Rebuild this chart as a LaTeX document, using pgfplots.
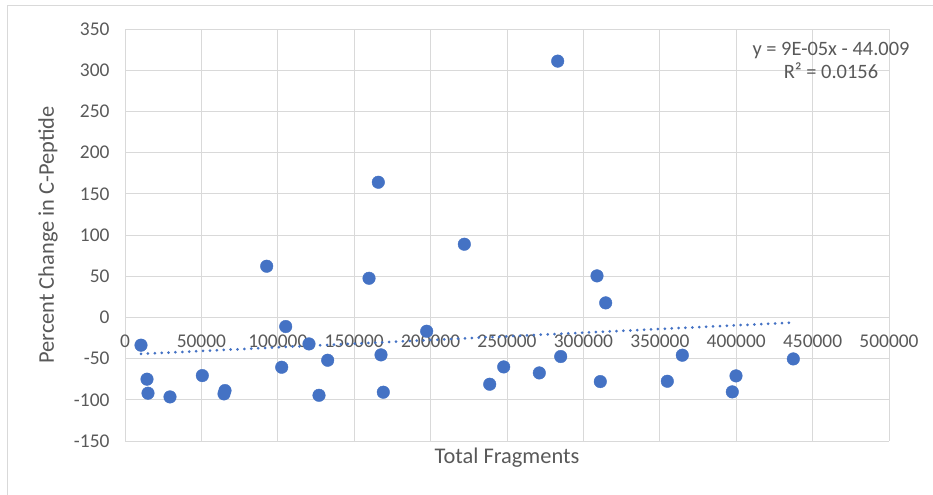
\documentclass[border=0pt]{standalone}
\usepackage{pgfplots}
\pgfplotsset{compat=1.18}
\usepackage{fontspec}
\setmainfont{Carlito}
\definecolor{gridgray}{HTML}{D9D9D9}
\definecolor{txtgray}{HTML}{595959}
\definecolor{xlblue}{HTML}{4472C4}
\begin{document}
\begin{tikzpicture}[x=1bp,y=1bp]
\useasboundingbox (0,0) rectangle (933,495);
\draw[gridgray, line width=1bp] (7,0) -- (7,489) -- (933,489);
\begin{axis}[
  at={(125bp,54bp)}, anchor=south west,
  scale only axis, width=764bp, height=412bp,
  xmin=0, xmax=500000, ymin=-150, ymax=350,
  xtick={0,50000,...,500000}, ytick={-150,-100,...,350},
  axis x line=middle, axis y line=left,
  hide obscured x ticks=false,
  axis line style={draw=gridgray, line width=0.9bp, -},
  grid=major, major grid style={draw=gridgray, line width=0.9bp},
  major tick length=0pt,
  scaled ticks=false,
  /pgf/number format/assume math mode=true,
  xticklabel style={/pgf/number format/fixed, /pgf/number format/1000 sep={}, anchor=north, yshift=-14bp},
  tick label style={font=\fontsize{19.5}{21}\selectfont, text=txtgray},
  yticklabel style={anchor=east, xshift=-12bp},
  clip=false,
]
\addplot[only marks, mark=*, mark size=6.3bp, mark options={draw=xlblue, fill=xlblue}] coordinates {
(10470,-33.7) (14400,-75) (15050,-92) (29450,-96.5) (50600,-70.6)
(65450,-88.8) (64800,-92.8) (92730,62.1) (102550,-60.5) (105170,-11.1)
(120420,-32.2) (126960,-94.5) (132650,-52) (159690,47.5) (167540,-45.5)
(169040,-90.8) (165770,164) (197440,-16.8) (222060,88.8) (238680,-81.1)
(247840,-60.1) (271140,-67.4) (285140,-47.5) (283180,311) (308900,50.4)
(314590,17.6) (311060,-77.9) (354910,-77.5) (364730,-45.9) (399870,-71)
(397430,-90.4) (437370,-50.4)
};
\addplot[xlblue, line width=3bp, line cap=round, dash pattern=on 0bp off 6.9bp] coordinates {(10470,-44.3) (437370,-6.3)};
\end{axis}
\node[text=txtgray, font=\fontsize{20.5}{23}\selectfont, align=center] at (831,434.5) {y = 9E-05x - 44.009\\R² = 0.0156};
\node[text=txtgray, font=\fontsize{22.5}{24}\selectfont] at (507,37) {Total Fragments};
\node[text=txtgray, font=\fontsize{22.5}{24}\selectfont, rotate=90] at (48,260) {Percent Change in C-Peptide};
\end{tikzpicture}
\end{document}
